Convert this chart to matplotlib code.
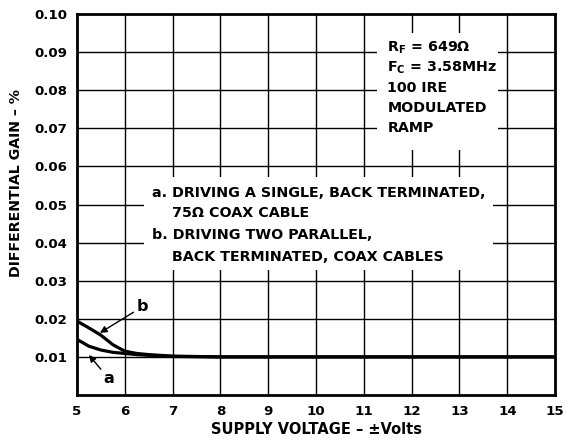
import matplotlib.pyplot as plt
from matplotlib.patches import Rectangle

plt.rcParams['font.family'] = ['DejaVu Sans']
plt.rcParams['font.weight'] = 'bold'

# supply voltage (+/- volts) and differential gain (%)
volts = [5.0, 5.25, 5.5, 5.75, 6.0, 6.25, 6.5, 7.0, 8.0, 9.0, 10.0, 11.0, 12.0, 13.0, 14.0, 15.0]
gain_a = [0.0146, 0.0128, 0.0118, 0.0112, 0.0109, 0.0106, 0.0104, 0.0101, 0.0100, 0.0100,
          0.0100, 0.0100, 0.0100, 0.0100, 0.0100, 0.0100]
gain_b = [0.0194, 0.0176, 0.0157, 0.0132, 0.0115, 0.0109, 0.0106, 0.0102, 0.0100, 0.0100,
          0.0100, 0.0100, 0.0100, 0.0100, 0.0100, 0.0100]

x_ticks = list(range(5, 16))
y_ticks = [0.01, 0.02, 0.03, 0.04, 0.05, 0.06, 0.07, 0.08, 0.09, 0.10]
y_tick_labels = ['0.01', '0.02', '0.03', '0.04', '0.05', '0.06', '0.07', '0.08', '0.09', '0.10']

conditions = [r'R$_\mathregular{F}$ = 649Ω', r'F$_\mathregular{C}$ = 3.58MHz',
              '100 IRE', 'MODULATED', 'RAMP']
legend_lines = ['a. DRIVING A SINGLE, BACK TERMINATED,', '75Ω COAX CABLE',
                'b. DRIVING TWO PARALLEL,', 'BACK TERMINATED, COAX CABLES']

fig = plt.figure(figsize=(5.77, 4.44), dpi=100)
ax = fig.add_axes([0.1334, 0.1104, 0.8287, 0.858])
ax.set_xlim(5, 15)
ax.set_ylim(0, 0.10)

# grid drawn by hand so the text boxes can cover it
for x in x_ticks[1:-1]:
    ax.axvline(x, color='black', lw=1.0, zorder=1)
for y in y_ticks[:-1]:
    ax.axhline(y, color='black', lw=1.0, zorder=1)

# white panels behind the notes
ax.add_patch(Rectangle((11.28, 0.0643), 2.53, 0.0307, fc='white', ec='none', zorder=2))
ax.add_patch(Rectangle((6.40, 0.0328), 7.30, 0.0244, fc='white', ec='none', zorder=2))

ax.plot(volts, gain_a, color='black', lw=2.3, zorder=3, solid_capstyle='butt')
ax.plot(volts, gain_b, color='black', lw=2.3, zorder=3, solid_capstyle='butt')

for i, line in enumerate(conditions):
    ax.text(11.49, 0.0911 - i * 0.00525, line, fontsize=10.3, fontweight='bold',
            va='center', ha='left', zorder=4)

legend_x = [6.57, 6.99, 6.57, 6.99]
legend_y = [0.0530, 0.0478, 0.0420, 0.0362]
for line, x, y in zip(legend_lines, legend_x, legend_y):
    ax.text(x, y, line, fontsize=10.3, fontweight='bold', va='center', ha='left', zorder=4)

arrow = dict(arrowstyle='-|>', color='black', lw=1.0, mutation_scale=10, shrinkA=0, shrinkB=0)
ax.annotate('b', xy=(5.48, 0.0163), xytext=(6.36, 0.0231), fontsize=11.5, fontweight='bold',
            ha='center', va='center', arrowprops=arrow, zorder=4)
ax.annotate('a', xy=(5.25, 0.0105), xytext=(5.67, 0.0042), fontsize=11.5, fontweight='bold',
            ha='center', va='center', arrowprops=arrow, zorder=4)

ax.set_xticks(x_ticks)
ax.set_xticklabels([str(x) for x in x_ticks])
ax.set_yticks(y_ticks)
ax.set_yticklabels(y_tick_labels)
ax.tick_params(length=0, labelsize=9.6, pad=7)
for lbl in ax.get_xticklabels() + ax.get_yticklabels():
    lbl.set_fontweight('bold')

for s in ax.spines.values():
    s.set_linewidth(2.0)
    s.set_zorder(5)

ax.set_xlabel('SUPPLY VOLTAGE – ±Volts', fontsize=10.5, fontweight='bold', labelpad=3)
ax.set_ylabel('DIFFERENTIAL GAIN – %', fontsize=10.2, fontweight='bold')
ax.yaxis.set_label_coords(-0.113, 0.556)

fig.savefig('out.png', dpi=100)
